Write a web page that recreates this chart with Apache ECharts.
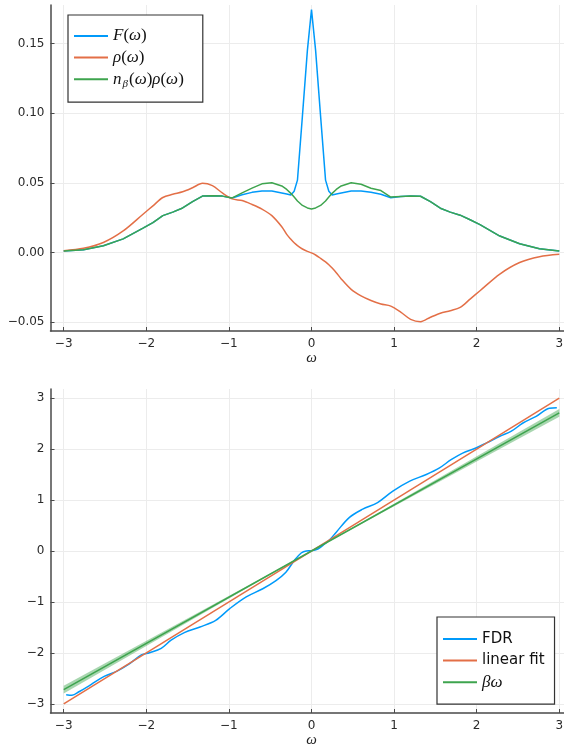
<!DOCTYPE html>
<html>
<head>
<meta charset="utf-8">
<script src="https://cdn.jsdelivr.net/npm/echarts@6/dist/echarts.min.js"></script>
<style>
html,body{margin:0;padding:0;background:#fff;overflow:hidden;width:564px;height:749px;}
#chart{width:580px;height:749px;}
</style>
</head>
<body>
<div id="chart"></div>
<script>
// ---------- data ----------
const omegaTop = [-3, -2.76, -2.52, -2.28, -2.04, -1.92, -1.8, -1.68, -1.56, -1.44, -1.32, -1.2, -1.08, -0.96, -0.84, -0.72, -0.6, -0.48, -0.36, -0.3, -0.25, -0.21, -0.17, -0.11, -0.05, 0, 0.05, 0.11, 0.17, 0.21, 0.25, 0.3, 0.36, 0.48, 0.6, 0.72, 0.84, 0.96, 1.08, 1.2, 1.32, 1.44, 1.56, 1.68, 1.8, 1.92, 2.04, 2.28, 2.52, 2.76, 3];
const F_vals = [0.0010, 0.0020, 0.0048, 0.0098, 0.0175, 0.0215, 0.0265, 0.0290, 0.0320, 0.0365, 0.0405, 0.0407, 0.0405, 0.0392, 0.0415, 0.0432, 0.0441, 0.0441, 0.0428, 0.0420, 0.0413, 0.0440, 0.0520, 0.0980, 0.1450,
  0.1745,
  0.1450, 0.0980, 0.0520, 0.0440, 0.0413, 0.0420, 0.0428, 0.0441, 0.0441, 0.0432, 0.0418, 0.0393, 0.0402, 0.0406, 0.0404, 0.0365, 0.0318, 0.0290, 0.0268, 0.0235, 0.0200, 0.0118, 0.0063, 0.0027, 0.0010];
const rho_vals = [0.0013, 0.0030, 0.0072, 0.0155, 0.0275, 0.0335, 0.0395, 0.0418, 0.0436, 0.0465, 0.0497, 0.0480, 0.0428, 0.0385, 0.0373, 0.0345, 0.0312, 0.0265, 0.0185, 0.0130, 0.0095, 0.0070, 0.0050, 0.0025, 0.0008,
  -0.0003,
  -0.0018, -0.0042, -0.0068, -0.0088, -0.0112, -0.0145, -0.0190, -0.0265, -0.0312, -0.0345, -0.0370, -0.0385, -0.0428, -0.0480, -0.0497, -0.0465, -0.0436, -0.0418, -0.0395, -0.0335, -0.0275, -0.0155, -0.0072, -0.0030, -0.0013];
const nrho_vals = [0.0010, 0.0020, 0.0048, 0.0098, 0.0175, 0.0215, 0.0265, 0.0290, 0.0320, 0.0365, 0.0405, 0.0407, 0.0405, 0.0392, 0.0428, 0.0462, 0.0493, 0.0501, 0.0478, 0.0453, 0.0425, 0.0398, 0.0370, 0.0338, 0.0320,
  0.0313,
  0.0320, 0.0338, 0.0370, 0.0398, 0.0425, 0.0453, 0.0478, 0.0501, 0.0490, 0.0462, 0.0445, 0.0398, 0.0402, 0.0406, 0.0404, 0.0365, 0.0318, 0.0290, 0.0268, 0.0235, 0.0200, 0.0118, 0.0063, 0.0027, 0.0010];

const omegaB = [-2.97, -2.9, -2.81, -2.67, -2.51, -2.36, -2.22, -2.06, -1.96, -1.82, -1.70, -1.54, -1.35, -1.16, -0.99, -0.79, -0.59, -0.43, -0.31, -0.21, -0.125, -0.064, 0, 0.077, 0.157, 0.22, 0.30, 0.46, 0.62, 0.80, 0.985, 1.19, 1.39, 1.55, 1.69, 1.83, 1.99, 2.12, 2.28, 2.42, 2.56, 2.72, 2.88, 2.97];
const FDR_vals = [-2.82, -2.83, -2.755, -2.62, -2.46, -2.36, -2.23, -2.04, -1.995, -1.91, -1.75, -1.60, -1.49, -1.36, -1.13, -0.90, -0.74, -0.58, -0.415, -0.19, -0.04, 0.0, 0.005, 0.04, 0.136, 0.22, 0.37, 0.66, 0.82, 0.95, 1.175, 1.37, 1.50, 1.63, 1.79, 1.92, 2.02, 2.12, 2.25, 2.35, 2.51, 2.64, 2.80, 2.81];
const fitX = [-3, 3];
const fitY = [-3.0, 3.0];
const betaX = [-3, 0, 3];
const betaY = [-2.72, 0, 2.71];
const bandLow = [-2.795, 0, 2.635];
const bandHigh = [-2.645, 0, 2.785];

const xTicks = [-3, -2, -1, 0, 1, 2, 3];
const yTicksTop = [-0.05, 0, 0.05, 0.10, 0.15];
const yTicksBottom = [-3, -2, -1, 0, 1, 2, 3];

const topNames = ['F(ω)', 'ρ(ω)', 'nβ(ω)ρ(ω)'];
const bottomNames = ['FDR', 'linear fit', 'βω'];

// ---------- styling ----------
const C_BLUE = '#009AFA', C_ORANGE = '#E36F47', C_GREEN = '#3EA44E';
const AXIS_COLOR = '#4a4a4a';
const GRID_COLOR = '#ececec';
const minus = s => s.replace('-', '\u2212');
const zip = (xs, ys) => xs.map((x, i) => [x, ys[i]]);

function xAxisCfg(gridIndex) {
  return {
    type: 'value', gridIndex, min: -3.16, max: 3.16,
    name: 'ω', nameLocation: 'middle', nameGap: 20,
    nameTextStyle: { fontFamily: 'Liberation Serif', fontStyle: 'italic', fontSize: 15, color: '#222' },
    axisLine: { show: true, onZero: false, lineStyle: { color: AXIS_COLOR, width: 1.5 } },
    axisTick: { show: true, inside: true, length: 4, customValues: xTicks, lineStyle: { color: AXIS_COLOR, width: 1 } },
    axisLabel: { customValues: xTicks, margin: 7, fontFamily: 'DejaVu Sans', fontSize: 12, color: '#2a2a2a', formatter: v => minus(String(v)) },
    splitLine: { show: true, lineStyle: { color: GRID_COLOR, width: 1 } }
  };
}
function yAxisCfg(gridIndex, min, max, ticks, fmt) {
  return {
    type: 'value', gridIndex, min, max,
    axisLine: { show: true, onZero: false, lineStyle: { color: AXIS_COLOR, width: 1.5 } },
    axisTick: { show: true, inside: true, length: 4, customValues: ticks, lineStyle: { color: AXIS_COLOR, width: 1 } },
    axisLabel: { customValues: ticks, margin: 6, fontFamily: 'DejaVu Sans', fontSize: 12, color: '#2a2a2a', formatter: fmt },
    splitLine: { show: true, lineStyle: { color: GRID_COLOR, width: 1 } }
  };
}

const mathRich = {
  it: { fontFamily: 'Liberation Serif', fontStyle: 'italic', fontSize: 17, color: '#111', lineHeight: 20, verticalAlign: 'middle' },
  rm: { fontFamily: 'Liberation Serif', fontSize: 17, color: '#111', lineHeight: 20, verticalAlign: 'middle' },
  sub: { fontFamily: 'Liberation Serif', fontStyle: 'italic', fontSize: 11, color: '#111', lineHeight: 11, verticalAlign: 'bottom', padding: [0, 1, 0, 1] },
  sf: { fontFamily: 'DejaVu Sans', fontSize: 15, color: '#111', lineHeight: 20, verticalAlign: 'middle' }
};
const legendFmt = {
  'F(ω)': '{it|F}{rm|(}{it|ω}{rm|)}',
  'ρ(ω)': '{it|ρ}{rm|(}{it|ω}{rm|)}',
  'nβ(ω)ρ(ω)': '{it|n}{sub|β}{rm|(}{it|ω}{rm|)}{it|ρ}{rm|(}{it|ω}{rm|)}',
  'FDR': '{sf|FDR}',
  'linear fit': '{sf|linear fit}',
  'βω': '{it|βω}'
};
function legendCfg(names, left, top, padding) {
  return {
    data: names, left, top, orient: 'vertical',
    icon: 'rect', itemWidth: 34, itemHeight: 2, itemGap: 1.6,
    padding, borderColor: '#333', borderWidth: 1.2, borderRadius: 0, backgroundColor: '#fff',
    textStyle: { fontSize: 15, lineHeight: 20, rich: mathRich },
    formatter: n => legendFmt[n] || n,
    selectedMode: false
  };
}

const lineSeries = (name, xi, data, color, extra) => Object.assign({
  name, type: 'line', xAxisIndex: xi, yAxisIndex: xi, data,
  showSymbol: false, symbol: 'none', color,
  lineStyle: { color, width: 1.5 }, z: 3
}, extra || {});

// band segments: [x0, low0, high0, x1, low1, high1]
const bandSegments = betaX.slice(0, -1).map((x, i) =>
  [x, bandLow[i], bandHigh[i], betaX[i + 1], bandLow[i + 1], bandHigh[i + 1]]);

const option = {
  animation: false,
  backgroundColor: '#fff',
  grid: [
    { left: 50.5, top: 5, width: 522, height: 326 },
    { left: 50.5, top: 389, width: 522, height: 326 }
  ],
  xAxis: [xAxisCfg(0), xAxisCfg(1)],
  yAxis: [
    yAxisCfg(0, -0.0564, 0.1778, yTicksTop, v => minus(v.toFixed(2))),
    yAxisCfg(1, -3.177, 3.177, yTicksBottom, v => minus(String(Math.round(v))))
  ],
  legend: [
    legendCfg(topNames, 68, 15, [11, 19, 13, 6]),
    legendCfg(bottomNames, 437, 617, [12, 10, 12, 6])
  ],
  series: [
    lineSeries(topNames[0], 0, zip(omegaTop, F_vals), C_BLUE),
    lineSeries(topNames[1], 0, zip(omegaTop, rho_vals), C_ORANGE, { smooth: 0.3 }),
    lineSeries(topNames[2], 0, zip(omegaTop, nrho_vals), C_GREEN),
    lineSeries(bottomNames[0], 1, zip(omegaB, FDR_vals), C_BLUE, { smooth: 0.35 }),
    lineSeries(bottomNames[1], 1, zip(fitX, fitY), C_ORANGE),
    {
      name: 'βω band', type: 'custom', xAxisIndex: 1, yAxisIndex: 1,
      data: bandSegments, encode: { x: [0, 3], y: [1, 2, 4, 5] }, z: 4, silent: true,
      renderItem: (params, api) => {
        const p0l = api.coord([api.value(0), api.value(1)]);
        const p0h = api.coord([api.value(0), api.value(2)]);
        const p1l = api.coord([api.value(3), api.value(4)]);
        const p1h = api.coord([api.value(3), api.value(5)]);
        return {
          type: 'polygon',
          shape: { points: [p0l, p1l, p1h, p0h] },
          style: { fill: 'rgba(62,164,78,0.45)', stroke: null }
        };
      }
    },
    lineSeries(bottomNames[2], 1, zip(betaX, betaY), C_GREEN, { z: 5 })
  ]
};

const chart = echarts.init(document.getElementById('chart'), null, { renderer: 'canvas' });
chart.setOption(option);
</script>
</body>
</html>
